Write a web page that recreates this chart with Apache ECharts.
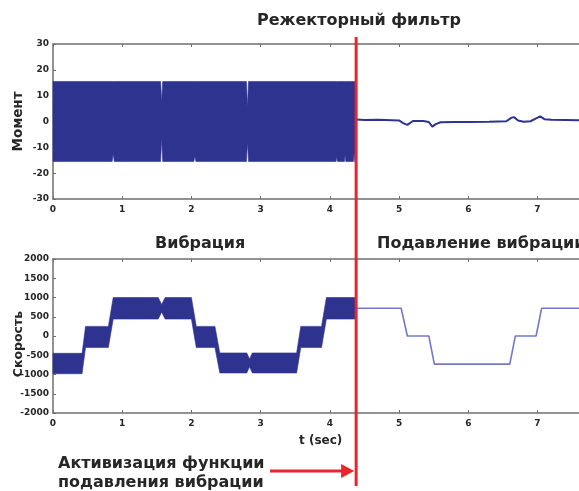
<!DOCTYPE html>
<html><head><meta charset="utf-8">
<script src="https://cdn.jsdelivr.net/npm/echarts@6/dist/echarts.min.js"></script>
<style>html,body{margin:0;padding:0;background:#fff}#c{width:579px;height:491px}</style>
</head><body><div id="c"></div>
<script>
// ---- data ----
const timeTicks = [0,1,2,3,4,5,6,7];
const activationTime = 4.38;

// Moment (top): envelope of dense oscillation before activation
const momentBandT  = [0, 0.855, 0.87, 0.885, 1.555, 1.57, 1.585, 2.035, 2.05, 2.065, 2.795, 2.81, 2.825, 4.09, 4.10, 4.11, 4.21, 4.22, 4.23, 4.34, 4.35, 4.36, 4.38];
const momentBandHi = [15.5, 15.5, 15.5, 15.5, 15.5, 7.5, 15.5, 15.5, 15.5, 15.5, 15.5, 5.5, 15.5, 15.5, 15.5, 15.5, 15.5, 15.5, 15.5, 15.5, 15.5, 15.5, 15.5];
const momentBandLo = [-15.5, -15.5, -12.5, -15.5, -15.5, -6.5, -15.5, -15.5, -13.5, -15.5, -15.5, -8, -15.5, -15.5, -13.5, -15.5, -15.5, -13, -15.5, -15.5, -12, -15.5, -15.5];
// Moment after activation
const momentPostT = [4.38, 4.5, 4.7, 4.9, 5.0, 5.06, 5.12, 5.2, 5.35, 5.43, 5.48, 5.53, 5.6, 5.8, 6.0, 6.3, 6.55, 6.62, 6.66, 6.72, 6.8, 6.9, 6.98, 7.04, 7.1, 7.2, 7.4, 7.6];
const momentPostV = [0.8, 0.6, 0.7, 0.5, 0.4, -0.6, -1.3, 0.2, 0.2, -0.2, -2.0, -1.0, -0.3, -0.2, -0.2, -0.1, 0.1, 1.4, 1.7, 0.4, -0.1, 0.1, 1.2, 2.0, 0.9, 0.7, 0.6, 0.5];

// Velocity (bottom): envelope before activation
const velBandT  = [0, 0.42, 0.47, 0.80, 0.87, 1.52, 1.57, 1.62, 2.00, 2.07, 2.34, 2.41, 2.80, 2.84, 2.88, 3.52, 3.58, 3.88, 3.95, 4.38];
const velBandHi = [-450, -450, 250, 250, 1000, 1000, 820, 1000, 1000, 250, 250, -440, -440, -600, -440, -440, 250, 250, 1000, 1000];
const velBandLo = [-980, -980, -300, -300, 440, 440, 620, 440, 440, -300, -300, -960, -960, -800, -960, -960, -300, -300, 440, 440];
// Velocity after activation
const velPostT = [4.38, 5.03, 5.12, 5.43, 5.51, 6.60, 6.68, 6.98, 7.06, 7.6];
const velPostV = [720, 720, 0, 0, -730, -730, 0, 0, 720, 720];

// ---- chart ----
const chart = echarts.init(document.getElementById('c'));
const navy = '#2f3390';
const axisGrey = '#6f6f6f';
const txt = '#262626';
const FONT = '"DejaVu Sans", Arial, sans-serif';

function bandSeries(xi, yi, T, HI, LO, color) {
  return {
    type: 'custom', xAxisIndex: xi, yAxisIndex: yi, silent: true,
    data: [[T[0], HI[0]]],
    renderItem: function (params, api) {
      const pts = [];
      for (let i = 0; i < T.length; i++) pts.push(api.coord([T[i], HI[i]]));
      for (let i = T.length - 1; i >= 0; i--) pts.push(api.coord([T[i], LO[i]]));
      return { type: 'polygon', shape: { points: pts }, style: { fill: color, stroke: color, lineWidth: 0.6 } };
    }
  };
}

function xAxes(gi) {
  const common = {
    type: 'value', gridIndex: gi, min: 0, max: 7.6, interval: 1,
    axisLine: { onZero: false, lineStyle: { color: axisGrey, width: 1.5 } },
    axisTick: { inside: true, length: 3, customValues: timeTicks, lineStyle: { color: axisGrey } },
    splitLine: { show: false }
  };
  return [
    Object.assign({}, common, { position: 'bottom',
      axisLabel: { customValues: timeTicks, fontSize: 9, fontWeight: 'bold', color: txt, fontFamily: FONT, margin: 6 } }),
    Object.assign({}, common, { position: 'top', axisLabel: { show: false } })
  ];
}

const yCommon = {
  type: 'value', nameLocation: 'middle', nameRotate: 90, nameMoveOverlap: false,
  axisLine: { show: true, onZero: false, lineStyle: { color: axisGrey, width: 1.5 } },
  axisTick: { show: true, inside: true, length: 3, lineStyle: { color: axisGrey } },
  splitLine: { show: false },
  axisLabel: { fontSize: 9, fontWeight: 'bold', color: txt, fontFamily: FONT, margin: 4, formatter: v => String(v) }
};

const xa = xAxes(0).concat(xAxes(1));
const titleStyle = { fontSize: 16, fontWeight: 'bold', color: txt, fontFamily: FONT };

chart.setOption({
  animation: false,
  backgroundColor: '#fff',
  grid: [
    { left: 53, top: 44, width: 526, height: 155, outerBoundsMode: 'none', containLabel: false },
    { left: 53, top: 259, width: 526, height: 154, outerBoundsMode: 'none', containLabel: false }
  ],
  xAxis: xa,
  yAxis: [
    Object.assign({}, yCommon, { gridIndex: 0, min: -30, max: 30, interval: 10, name: 'Момент', nameGap: 28,
      nameTextStyle: { fontSize: 13.5, fontWeight: 'bold', color: txt, fontFamily: FONT } }),
    Object.assign({}, yCommon, { gridIndex: 1, min: -2000, max: 2000, interval: 500, name: 'Скорость', nameGap: 28,
      nameTextStyle: { fontSize: 12.5, fontWeight: 'bold', color: txt, fontFamily: FONT, padding: [0, 16, 0, 0] } })
  ],
  title: [
    { text: 'Режекторный фильтр', left: 257, top: 13, padding: 0, textStyle: titleStyle },
    { text: 'Вибрация', left: 155, top: 236, padding: 0, textStyle: titleStyle },
    { text: 'Подавление вибрации', left: 377, top: 236, padding: 0, textStyle: titleStyle },
    { text: 't (sec)', left: 299, top: 435, padding: 0, textStyle: { fontSize: 12, fontWeight: 'bold', color: txt, fontFamily: FONT } }
  ],
  series: [
    bandSeries(0, 0, momentBandT, momentBandHi, momentBandLo, navy),
    { type: 'line', xAxisIndex: 0, yAxisIndex: 0, showSymbol: false, silent: true,
      data: momentPostT.map((t, i) => [t, momentPostV[i]]),
      lineStyle: { color: navy, width: 2 } },
    bandSeries(2, 1, velBandT, velBandHi, velBandLo, navy),
    { type: 'line', xAxisIndex: 2, yAxisIndex: 1, showSymbol: false, silent: true,
      data: velPostT.map((t, i) => [t, velPostV[i]]),
      lineStyle: { color: '#7378c8', width: 1.6 } }
  ]
});

// red activation marker & annotation
const redX = chart.convertToPixel({ xAxisIndex: 0 }, activationTime);
chart.setOption({
  graphic: [
    { type: 'line', shape: { x1: redX, y1: 37, x2: redX, y2: 486 }, style: { stroke: '#e8262b', lineWidth: 3 }, z: 100 },
    { type: 'line', shape: { x1: 270, y1: 471, x2: redX - 12, y2: 471 }, style: { stroke: '#e8262b', lineWidth: 3 }, z: 100 },
    { type: 'polygon', shape: { points: [[redX - 15, 464], [redX - 2, 471], [redX - 15, 478]] }, style: { fill: '#e8262b' }, z: 100 },
    { type: 'text', left: 58, top: 454, style: { text: 'Активизация функции\nподавления вибрации', font: 'bold 16px ' + FONT, fill: txt, lineHeight: 19 } }
  ]
});
</script>
</body></html>
